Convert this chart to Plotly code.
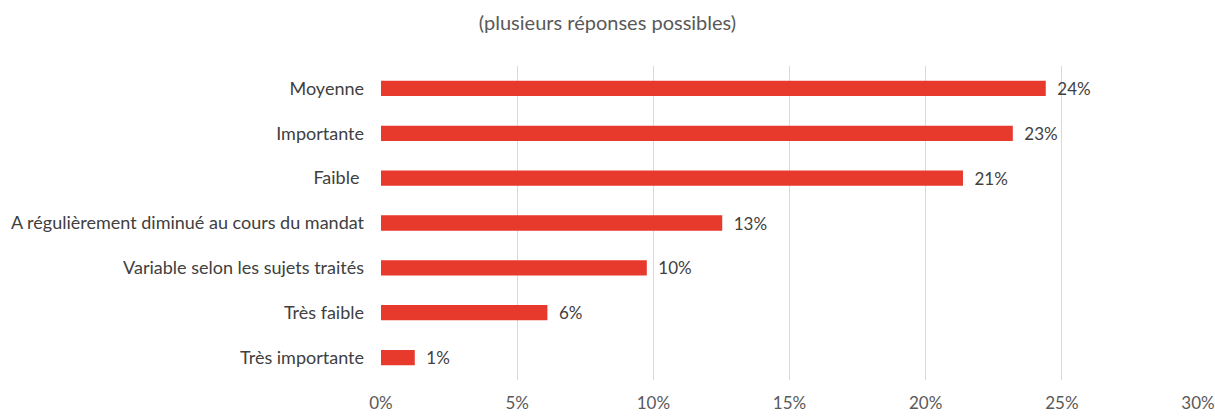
import plotly.graph_objects as go

# Survey shares, listed from the bottom bar to the top bar
categories = [
    "Très importante",
    "Très faible",
    "Variable selon les sujets traités",
    "A régulièrement diminué au cours du mandat",
    "Faible ",
    "Importante",
    "Moyenne",
]
shares = [0.0124, 0.0611, 0.0976, 0.1253, 0.2137, 0.2320, 0.2441]

tick_vals = [0, 0.05, 0.10, 0.15, 0.20, 0.25, 0.30]
tick_text = ["0%", "5%", "10%", "15%", "20%", "25%", "30%"]

title_text = "(plusieurs réponses possibles)"

FONT = "Lato, Open Sans, sans-serif"
BAR_RED = "#E8392D"

fig = go.Figure(
    go.Bar(
        x=shares,
        y=categories,
        orientation="h",
        marker=dict(color=BAR_RED, line=dict(width=0)),
        texttemplate="\u2002%{x:.0%}",
        textposition="outside",
        constraintext="none",
        textfont=dict(family=FONT, size=17, color="#404040"),
        cliponaxis=False,
        hoverinfo="skip",
    )
)

fig.update_layout(
    width=1215,
    height=416,
    margin=dict(l=381, r=17, t=66, b=36),
    paper_bgcolor="white",
    plot_bgcolor="white",
    bargap=0.66,
    showlegend=False,
    font=dict(family=FONT, size=17, color="#404040"),
    title=dict(
        text=title_text,
        x=0.5,
        xanchor="center",
        y=0.945,
        yanchor="middle",
        font=dict(family=FONT, size=20, color="#595959"),
    ),
)

fig.update_xaxes(
    range=[0, 0.30],
    tickvals=tick_vals,
    ticktext=tick_text,
    showgrid=True,
    gridcolor="#D9D9D9",
    gridwidth=1,
    zeroline=False,
    showline=False,
    ticks="",
    tickfont=dict(family=FONT, size=17, color="#595959"),
    ticklabelstandoff=11,
    automargin=False,
    fixedrange=True,
)

fig.update_yaxes(
    categoryorder="array",
    categoryarray=categories,
    showgrid=False,
    zeroline=False,
    showline=False,
    ticks="",
    tickfont=dict(family=FONT, size=18, color="#404040"),
    ticklabelstandoff=16,
    automargin=False,
    fixedrange=True,
)

fig.write_html("out.html")
